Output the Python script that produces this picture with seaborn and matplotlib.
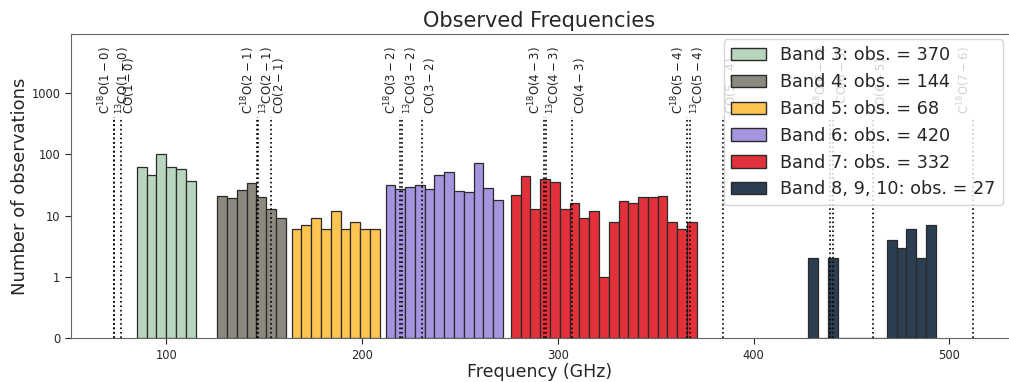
import numpy as np
import pandas as pd
import matplotlib
matplotlib.use("Agg")
import matplotlib.pyplot as plt
import matplotlib.ticker as mticker
from matplotlib.patches import Patch
import seaborn as sns

# ------------------------------------------
# data (5 GHz bins)
# ------------------------------------------
bin_width = 5.0
band_names = ["Band 3", "Band 4", "Band 5", "Band 6", "Band 7", "Band 8, 9, 10"]
band_obs = [370, 144, 68, 420, 332, 27]
band_start = [85.0, 126.0, 164.0, 212.0, 276.0, 428.0]
band_colors = ["#b8d6be", "#8c8a7e", "#fec450", "#a594de", "#e3313b", "#2c3e52"]

band3_counts = [62, 45, 101, 63, 57, 36]
band4_counts = [21, 19, 26, 34, 20, 13, 9]
band5_counts = [6, 7, 9, 6, 12, 6, 8, 6, 6]
band6_counts = [32, 27, 29, 31, 27, 46, 52, 25, 24, 73, 28, 18]
band7_counts = [22, 44, 13, 40, 35, 13, 16, 9, 12, 1, 8, 17, 16, 20, 20, 21, 8, 6, 8]
band8_counts = [2, 0, 2, 0, 0, 0, 0, 0, 4, 3, 6, 2, 7]
all_counts = [band3_counts, band4_counts, band5_counts,
              band6_counts, band7_counts, band8_counts]

# CO isotopologue lines (rest frequency, GHz) and source redshift
redshift = 0.5
line_names = [
    r"C$^{18}$O$(1-0)$", r"$^{13}$CO$(1-0)$", r"CO$(1-0)$",
    r"C$^{18}$O$(2-1)$", r"$^{13}$CO$(2-1)$", r"CO$(2-1)$",
    r"C$^{18}$O$(3-2)$", r"$^{13}$CO$(3-2)$", r"CO$(3-2)$",
    r"C$^{18}$O$(4-3)$", r"$^{13}$CO$(4-3)$", r"CO$(4-3)$",
    r"C$^{18}$O$(5-4)$", r"$^{13}$CO$(5-4)$", r"CO$(5-4)$",
    r"C$^{18}$O$(6-5)$", r"$^{13}$CO$(6-5)$", r"CO$(6-5)$",
    r"C$^{18}$O$(7-6)$",
]
line_rest = [
    109.782, 110.201, 115.271,
    219.560, 220.399, 230.538,
    329.331, 330.588, 345.796,
    439.089, 440.765, 461.041,
    548.831, 550.926, 576.268,
    658.553, 661.067, 691.473,
    768.251,
]

# ------------------------------------------
# figure
# ------------------------------------------
sns.set_style("ticks")
plt.rcParams["font.family"] = ["DejaVu Sans"]

fig = plt.figure(figsize=(10.09, 3.82), dpi=100)
ax = fig.add_axes([0.0701, 0.1144, 0.929, 0.7967])

handles = []
for name, obs, start, color, counts in zip(band_names, band_obs, band_start,
                                          band_colors, all_counts):
    nbins = len(counts)
    centers = start + bin_width * (np.arange(nbins) + 0.5)
    df = pd.DataFrame({"freq": centers, "n": counts})
    sns.histplot(data=df, x="freq", weights="n", binwidth=bin_width,
                 binrange=(start, start + bin_width * nbins), ax=ax,
                 color=color, alpha=1, edgecolor="#2a2a2a", linewidth=0.9)
    handles.append(Patch(facecolor=color, edgecolor="#2a2a2a",
                         label=f"{name}: obs. = {obs}"))

# redshifted line markers
for name, rest in zip(line_names, line_rest):
    f_obs = rest / (1 + redshift)
    ax.vlines(f_obs, 0, 400, colors="black", linestyles=":", linewidth=1.2, zorder=1)
    ha = "right" if name.startswith("C$^{18}") else "left"
    ax.text(f_obs, 460, name, rotation=90, ha=ha, va="bottom", fontsize=8.5,
            color="#222222", zorder=1)

ax.set_yscale("symlog", linthresh=1, linscale=0.9)
ax.set_ylim(0, 9100)
ax.set_xlim(51.2, 530)
ax.yaxis.set_major_formatter(mticker.FuncFormatter(lambda v, p: f"{v:g}"))
ax.set_yticks([0, 1, 10, 100, 1000])
ax.set_xticks([100, 200, 300, 400, 500])
ax.tick_params(axis="both", labelsize=8.3, length=4, width=0.8)
ax.tick_params(axis="y", which="minor", length=2)

for side in ["left", "top", "bottom"]:
    ax.spines[side].set_color("#666666")
ax.spines["right"].set_visible(False)

ax.set_title("Observed Frequencies", fontsize=15, pad=5)
ax.set_xlabel("Frequency (GHz)", fontsize=12.5, labelpad=1)
ax.set_ylabel("Number of observations", fontsize=13, labelpad=2)
ax.legend(handles=handles, loc="upper right", fontsize=12.7, framealpha=0.8,
          borderaxespad=0.3)

fig.savefig("out.png", dpi=100)
